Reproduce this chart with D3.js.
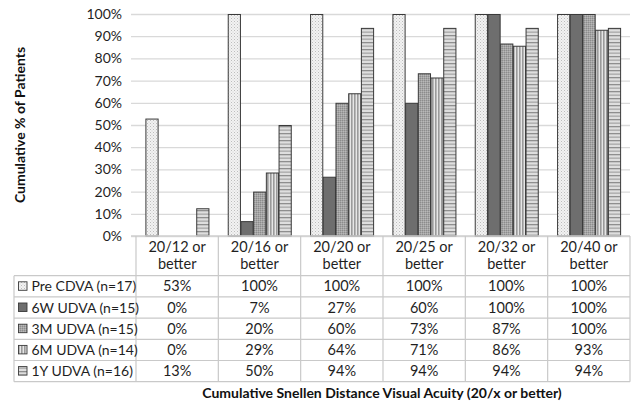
<!DOCTYPE html>
<html><head><meta charset="utf-8">
<script src="https://cdn.jsdelivr.net/npm/d3@7"></script>
<style>
html,body{margin:0;padding:0;background:#fff;}
svg{display:block;font-family:Lato,"Open Sans",sans-serif;}
</style></head>
<body><svg id="c" width="633" height="405"></svg>
<script>
// ---- data ----
const categories = ["20/12 or better","20/16 or better","20/20 or better","20/25 or better","20/32 or better","20/40 or better"];
const seriesNames = ["Pre CDVA (n=17)","6W UDVA (n=15)","3M UDVA (n=15)","6M UDVA (n=14)","1Y UDVA (n=16)"];
const preCDVA = [52.9,100,100,100,100,100];
const udva6W  = [0,6.7,26.7,60,100,100];
const udva3M  = [0,20,60,73.3,86.7,100];
const udva6M  = [0,28.6,64.3,71.4,85.7,92.9];
const udva1Y  = [12.5,50,93.75,93.75,93.75,93.75];
const yTicks = [0,10,20,30,40,50,60,70,80,90,100];
const yTitle = "Cumulative % of Patients";
const xTitle = "Cumulative Snellen Distance Visual Acuity (20/x or better)";

const seriesValues = [preCDVA, udva6W, udva3M, udva6M, udva1Y];
const patternIds = ["pPre","p6W","p3M","p6M","p1Y"];

const svg = d3.select("#c");
const defs = svg.append("defs");
function pat(id,w,h,bg,draw){
  const p = defs.append("pattern").attr("id",id).attr("patternUnits","userSpaceOnUse").attr("width",w).attr("height",h);
  p.append("rect").attr("width",w).attr("height",h).attr("fill",bg);
  draw(p); return p;
}
pat("pPre",3,3,"#f2f2f2",p=>{p.append("rect").attr("x",0).attr("y",0).attr("width",1).attr("height",1).attr("fill","#bdbdbd");
  p.append("rect").attr("x",1.5).attr("y",1.5).attr("width",1).attr("height",1).attr("fill","#d0d0d0");});
pat("p6W",4,4,"#6e6e6e",p=>{});
pat("p3M",2,2,"#a4a4a4",p=>{p.append("rect").attr("width",1).attr("height",1).attr("fill","#8c8c8c");
  p.append("rect").attr("x",1).attr("y",1).attr("width",1).attr("height",1).attr("fill","#b8b8b8");});
pat("p6M",3,4,"#e6e6e6",p=>{p.append("rect").attr("x",0).attr("width",1.6).attr("height",4).attr("fill","#9a9a9a");});
pat("p1Y",4,7,"#dedede",p=>{p.append("rect").attr("y",0).attr("width",4).attr("height",1.3).attr("fill","#8e8e8e");
  p.append("rect").attr("y",3.5).attr("width",4).attr("height",1.3).attr("fill","#a8a8a8");});

const pL = 136, pR = 630, pT = 14, pB = 236;
const x = d3.scaleBand().domain(categories).range([pL,pR]).padding(0);
const xs = d3.scaleBand().domain(seriesNames).range([0,x.bandwidth()]).paddingInner(0).paddingOuter(0.74);
const y = d3.scaleLinear().domain([0,100]).range([pB,pT]);

const yAxis = d3.axisLeft(y).tickValues(yTicks).tickFormat(d=>d+"%").tickSize(-(pR-131)).tickPadding(9);
const ga = svg.append("g").attr("transform","translate(131,0)").call(yAxis);
ga.select(".domain").remove();
ga.selectAll(".tick line").attr("stroke","#d9d9d9").attr("stroke-width",1.3);
ga.selectAll(".tick text").attr("fill","#1f1f1f").style("font-size","14px").style("font-family","Lato");

const gb = svg.append("g");
seriesNames.forEach((s,i)=>{
  const data = categories.map((c,j)=>({c, v: seriesValues[i][j]})).filter(d=>d.v>0);
  gb.selectAll(null).data(data).enter().append("rect")
    .attr("x",d=>x(d.c)+xs(s)+0.5)
    .attr("y",d=>y(d.v)+0.5)
    .attr("width",xs.bandwidth()-0.5)
    .attr("height",d=>y(0)-y(d.v)-0.5)
    .attr("fill","url(#"+patternIds[i]+")")
    .attr("stroke","#3a3a3a").attr("stroke-width",1);
});

const rowTop = 275.7, rowH = 21.2, tableLeft = 14;
const tableBottom = rowTop + rowH*seriesNames.length;
const gt = svg.append("g");
const lineCol = "#c9c9c9";
gt.append("line").attr("x1",131).attr("x2",pR).attr("y1",pB).attr("y2",pB).attr("stroke","#d0d0d0").attr("stroke-width",1.3);
const bounds = categories.map(c=>x(c)).concat([pR]);
gt.selectAll(null).data(bounds).enter().append("line")
  .attr("x1",d=>d).attr("x2",d=>d).attr("y1",pB).attr("y2",tableBottom)
  .attr("stroke",lineCol).attr("stroke-width",1.2);
gt.append("line").attr("x1",tableLeft).attr("x2",tableLeft).attr("y1",rowTop).attr("y2",tableBottom).attr("stroke",lineCol).attr("stroke-width",1.2);
const hl = d3.range(seriesNames.length+1).map(i=>rowTop+i*rowH);
gt.selectAll(null).data(hl).enter().append("line")
  .attr("x1",tableLeft).attr("x2",pR).attr("y1",d=>d).attr("y2",d=>d)
  .attr("stroke",lineCol).attr("stroke-width",1.2);

const txtCol = "#1f1f1f";
const fs = "14.5px";
categories.forEach(c=>{
  const parts = c.split(" or ");
  const cx = x(c)+x.bandwidth()/2;
  gt.append("text").attr("x",cx).attr("y",251.5).attr("text-anchor","middle").attr("fill",txtCol).style("font-size",fs).text(parts[0]+" or");
  gt.append("text").attr("x",cx).attr("y",269).attr("text-anchor","middle").attr("fill",txtCol).style("font-size",fs).text(parts[1]);
});
seriesNames.forEach((s,i)=>{
  const cy = rowTop + i*rowH + rowH/2;
  gt.append("rect").attr("x",18.5).attr("y",cy-4.5).attr("width",8.5).attr("height",8.5)
    .attr("fill","url(#"+patternIds[i]+")").attr("stroke","#3a3a3a").attr("stroke-width",0.9);
  gt.append("text").attr("x",31.5).attr("y",cy+5).attr("fill",txtCol).style("font-size","14px").text(s);
  categories.forEach((c,j)=>{
    gt.append("text").attr("x",x(c)+x.bandwidth()/2).attr("y",cy+5).attr("text-anchor","middle")
      .attr("fill",txtCol).style("font-size",fs).text(Math.round(seriesValues[i][j])+"%");
  });
});

svg.append("text").attr("x",382).attr("y",398).attr("text-anchor","middle").attr("fill","#111")
  .style("font-size","14px").style("font-weight","bold").text(xTitle);
svg.append("text").attr("transform","translate(25,125) rotate(-90)").attr("text-anchor","middle").attr("fill","#111")
  .style("font-size","14px").style("font-weight","bold").text(yTitle);
</script></body></html>
